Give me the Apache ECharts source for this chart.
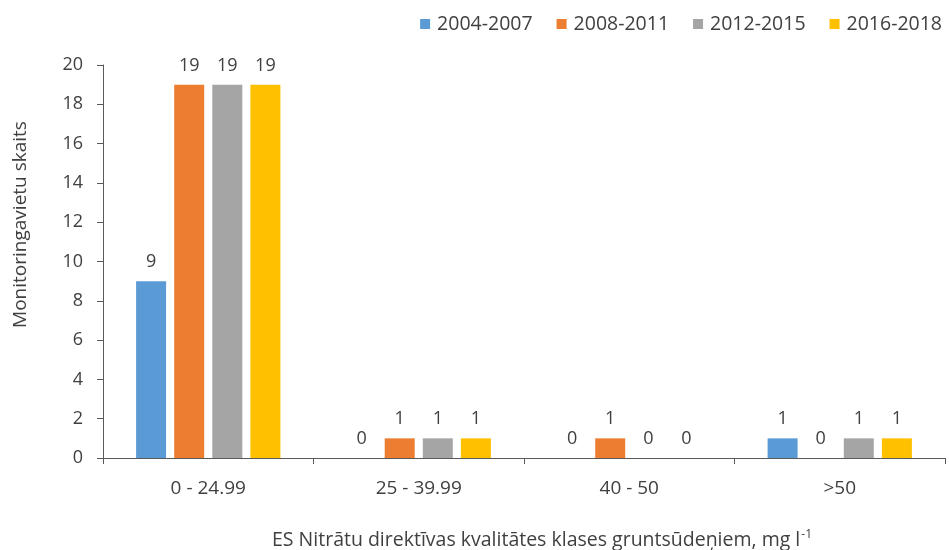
<!DOCTYPE html>
<html>
<head>
<meta charset="utf-8">
<script src="https://cdn.jsdelivr.net/npm/echarts@6/dist/echarts.min.js"></script>
<style>
  html, body { margin: 0; padding: 0; background: #fff; overflow: hidden; }
  #chart { width: 949px; height: 550px; }
</style>
</head>
<body>
<div id="chart"></div>
<script>
// Nitrate concentration classes and monitoring site counts per period
const categories = ['0 - 24.99', '25 - 39.99', '40 - 50', '>50'];
const periods = ['2004-2007', '2008-2011', '2012-2015', '2016-2018'];
const values2004 = [9, 0, 0, 1];
const values2008 = [19, 1, 1, 0];
const values2012 = [19, 1, 0, 1];
const values2016 = [19, 1, 0, 1];
const yTicks = [0, 2, 4, 6, 8, 10, 12, 14, 16, 18, 20];

const colors = ['#5B9BD5', '#ED7D31', '#A5A5A5', '#FFC000'];
const seriesValues = [values2004, values2008, values2012, values2016];
const FONT = '"Open Sans", "Noto Sans", sans-serif';
const TEXT = '#404040';

const chart = echarts.init(document.getElementById('chart'));
chart.setOption({
  animation: false,
  textStyle: { fontFamily: FONT },
  legend: {
    data: periods,
    top: 9,
    right: 2,
    itemWidth: 10,
    itemHeight: 10,
    itemGap: 24,
    icon: 'rect',
    textStyle: { fontSize: 19.5, color: TEXT, fontFamily: FONT, padding: [0, 0, 0, 2] }
  },
  grid: { left: 103, right: 4, top: 65, bottom: 92, containLabel: false, outerBoundsMode: 'none' },
  xAxis: {
    type: 'category',
    data: categories,
    axisLine: { lineStyle: { color: '#595959', width: 1 } },
    axisTick: { show: true, length: 6, lineStyle: { color: '#595959' } },
    axisLabel: { fontSize: 19, color: TEXT, margin: 21, fontFamily: FONT },
    name: '{n|ES Nitrātu direktīvas kvalitātes klases gruntsūdeņiem, mg l}{s|-1}',
    nameLocation: 'middle',
    nameGap: 71,
    nameTextStyle: {
      padding: [0, 0, 0, 36],
      rich: {
        n: { fontSize: 19.5, color: TEXT, fontFamily: FONT },
        s: { fontSize: 12, color: TEXT, fontFamily: FONT, verticalAlign: 'top', padding: [0, 0, 10, 1] }
      }
    }
  },
  yAxis: {
    type: 'value',
    min: yTicks[0],
    max: yTicks[yTicks.length - 1],
    interval: 2,
    splitLine: { show: false },
    axisLine: { show: true, lineStyle: { color: '#595959', width: 1 } },
    axisTick: { show: true, length: 6, lineStyle: { color: '#595959' } },
    axisLabel: { fontSize: 18, color: TEXT, margin: 20, fontFamily: FONT },
    name: 'Monitoringavietu skaits',
    nameLocation: 'middle',
    nameGap: 73,
    nameRotate: 90,
    nameTextStyle: { fontSize: 19, color: TEXT, fontFamily: FONT, padding: [0, 0, 0, 74] }
  },
  series: periods.map((p, i) => ({
    name: p,
    type: 'bar',
    data: seriesValues[i],
    barWidth: 30,
    barGap: '27%',
    itemStyle: { color: colors[i] },
    label: {
      show: true,
      position: 'top',
      distance: 10,
      fontSize: 18,
      color: TEXT,
      fontFamily: FONT
    }
  }))
});
</script>
</body>
</html>
